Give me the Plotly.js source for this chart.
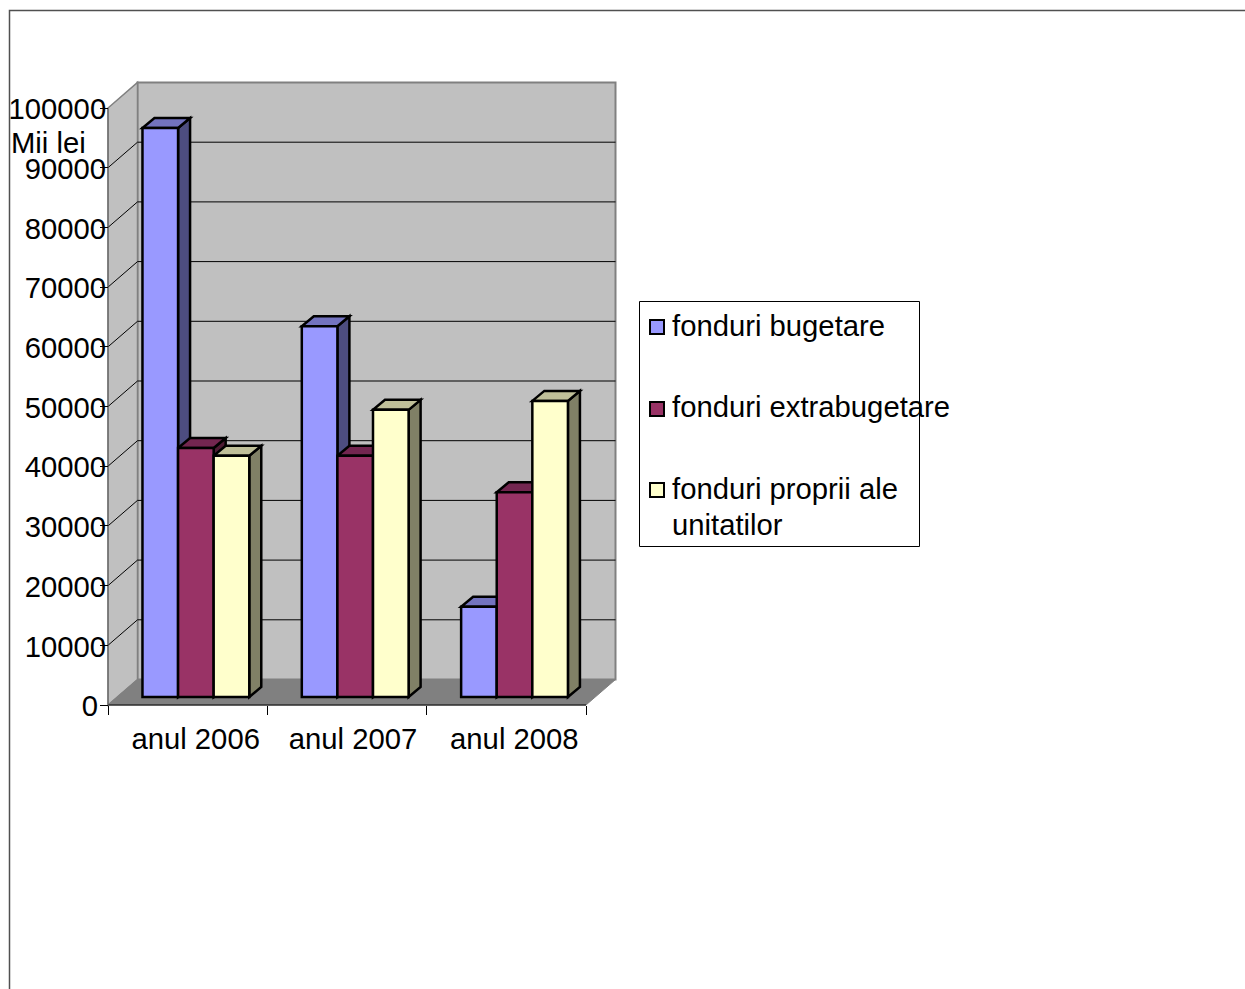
<!DOCTYPE html>
<html>
<head>
<meta charset="utf-8">
<script src="https://cdn.plot.ly/plotly-3.0.1.min.js"></script>
<style>html,body{margin:0;padding:0;background:#fff}#chart{width:1245px;height:989px}</style>
</head>
<body>
<div id="chart"></div>
<script>
// ---- data ----
const categories = ['anul 2006', 'anul 2007', 'anul 2008'];
const seriesNames = ['fonduri bugetare', 'fonduri extrabugetare', 'fonduri proprii ale unitatilor'];
const legendLines = ['fonduri bugetare', 'fonduri extrabugetare', 'fonduri proprii ale', 'unitatilor'];
const bugetare = [95300, 62100, 15100];
const extrabugetare = [41700, 40400, 34300];
const proprii = [40400, 48100, 49600];
const yTicks = [0, 10000, 20000, 30000, 40000, 50000, 60000, 70000, 80000, 90000, 100000];
const yTickText = ['0\u00A0', '10000', '20000', '30000', '40000', '50000', '60000', '70000', '80000', '90000', '100000'];
const frontColors = ['#9999FF', '#993366', '#FFFFCC'];
const topColors = ['#7373BF', '#732650', '#BFBF99'];
const sideColors = ['#4D4D80', '#4D1A33', '#808066'];
const allSeries = [bugetare, extrabugetare, proprii];

// ---- page geometry ----
const W = 1245, H = 989;
const catPx = 159.33, cat0Px = 187.67;      // category pitch, first centre
const zeroPx = 705, tenKPx = 59.7;          // y of 0, px per 10000
const X = px => (px - cat0Px) / catPx;      // px -> x data
const DX = px => px / catPx;
const Y = py => (zeroPx - py) / tenKPx * 10000; // px -> y data
const DY = px => px / tenKPx * 10000;

const plotL = 100, plotR = 624, plotT = 75, plotB = 712;
const xRange = [X(plotL), X(plotR)];
const yRange = [Y(plotB), Y(plotT)];
const xDomain = [plotL / W, plotR / W];
const yDomain = [1 - plotB / H, 1 - plotT / H];

const wallDx = DX(29.5), wallDy = DY(25.5);   // depth of the box
const barDx = DX(12), barDy = DY(10);         // depth of a bar
const barBase = DY(8);                        // bars stand inside the floor
const barW = DX(35.6), groupStart = DX(-45.2);
const left = -0.5, right = 2.5;
const topTick = yTicks[yTicks.length - 1];
const labelNudge = [DX(8), DX(6), DX(8)];

const poly = pts => 'M' + pts.map(p => p[0] + ',' + p[1]).join(' L') + ' Z';
const area = (pts, fill, line, width) => ({
  type: 'path', path: poly(pts), xref: 'x', yref: 'y', layer: 'below',
  fillcolor: fill, line: {color: line, width: width}
});
const seg = (x0, y0, x1, y1, color, width) => ({
  type: 'line', x0, y0, x1, y1, xref: 'x', yref: 'y', layer: 'below',
  line: {color, width}
});

const shapes = [];
// outer chart frame
shapes.push({type: 'rect', xref: 'paper', yref: 'paper', x0: 9.5 / W, x1: 1.02, y0: 1 - 10.5 / H, y1: -0.02,
  line: {color: '#505050', width: 1.5}, fillcolor: 'rgba(0,0,0,0)', layer: 'below'});
// back wall, side wall, floor
shapes.push(area([[left + wallDx, wallDy], [right + wallDx, wallDy], [right + wallDx, topTick + wallDy], [left + wallDx, topTick + wallDy]], '#C0C0C0', '#808080', 2));
shapes.push(area([[left, 0], [left + wallDx, wallDy], [left + wallDx, topTick + wallDy], [left, topTick]], '#C0C0C0', '#808080', 1.5));
shapes.push(area([[left, 0], [right, 0], [right + wallDx, wallDy], [left + wallDx, wallDy]], '#808080', '#808080', 1));
// gridlines on the walls
yTicks.slice(1, -1).forEach(v => {
  shapes.push(seg(left + wallDx, v + wallDy, right + wallDx, v + wallDy, '#000000', 1));
  shapes.push(seg(left, v, left + wallDx, v + wallDy, '#000000', 1));
});
// axis lines of the front plane
shapes.push(seg(left, 0, right, 0, '#000000', 1));
shapes.push(seg(left, 0, left, topTick, '#606060', 1));
// depth faces of each bar, built from the values
allSeries.forEach((vals, s) => {
  vals.forEach((v, c) => {
    const x0 = c + groupStart + s * barW, x1 = x0 + barW, t = barBase + v;
    shapes.push(area([[x1, barBase], [x1 + barDx, barBase + barDy], [x1 + barDx, t + barDy], [x1, t]], sideColors[s], '#000000', 2.5));
    shapes.push(area([[x0, t], [x1, t], [x1 + barDx, t + barDy], [x0 + barDx, t + barDy]], topColors[s], '#000000', 2.5));
  });
});

// legend box + swatches
const px = v => v / W, py = v => 1 - v / H;
shapes.push({type: 'rect', xref: 'paper', yref: 'paper', x0: px(639.5), x1: px(919.5), y0: py(546.5), y1: py(301.5),
  fillcolor: '#FFFFFF', line: {color: '#000000', width: 1}, layer: 'below'});
const swatchY = [327, 409, 490];
const legendTextY = [326, 407, 489.5, 524.5];
swatchY.forEach((y, i) => shapes.push({type: 'rect', xref: 'paper', yref: 'paper',
  x0: px(650), x1: px(664), y0: py(y + 7), y1: py(y - 7),
  fillcolor: frontColors[i], line: {color: '#000000', width: 2}, layer: 'below'}));

const fontFam = '"Liberation Sans", Arial, sans-serif';
const textSize = 29.25;
const annotations = legendLines.map((n, i) => ({
  xref: 'paper', yref: 'paper', x: px(670.5), y: py(legendTextY[i]), xanchor: 'left', yanchor: 'middle',
  text: n, align: 'left', showarrow: false, borderpad: 0, font: {family: fontFam, size: textSize, color: '#000'}
}));
annotations.push({xref: 'paper', yref: 'paper', x: px(9), y: py(143), xanchor: 'left', yanchor: 'middle',
  text: 'Mii lei', showarrow: false, font: {family: fontFam, size: textSize, color: '#000'}});

const traces = allSeries.map((vals, s) => ({
  type: 'bar', name: seriesNames[s],
  x: categories.map((_, i) => i), y: vals, base: barBase,
  width: barW, offset: groupStart + s * barW,
  marker: {color: frontColors[s], line: {color: '#000000', width: 2.5}},
  showlegend: false, hoverinfo: 'name+y'
}));

const layout = {
  width: W, height: H, margin: {l: 0, r: 0, t: 0, b: 0, pad: 0},
  paper_bgcolor: '#FFFFFF', plot_bgcolor: 'rgba(0,0,0,0)', barmode: 'overlay', showlegend: false,
  font: {family: fontFam, size: textSize, color: '#000'},
  xaxis: {
    domain: xDomain, range: xRange, anchor: 'free', position: 1 - zeroPx / H,
    tickmode: 'array', tickvals: categories.map((_, i) => i + labelNudge[i]), ticktext: categories,
    ticks: '', showgrid: false, zeroline: false, showline: false,
    ticklabelstandoff: 14, tickfont: {family: fontFam, size: textSize, color: '#000'}
  },
  xaxis2: {
    domain: xDomain, range: xRange, anchor: 'free', position: 1 - zeroPx / H, overlaying: 'x',
    tickmode: 'array', tickvals: [-0.5, 0.5, 1.5, 2.5], ticktext: ['', '', '', ''],
    ticks: 'outside', ticklen: 9, tickwidth: 1, tickcolor: '#000', showgrid: false, zeroline: false, showline: false
  },
  yaxis: {
    domain: yDomain, range: yRange, anchor: 'free', position: 108 / W,
    tickmode: 'array', tickvals: yTicks, ticktext: yTickText,
    ticks: 'outside', ticklen: 8, tickwidth: 1, tickcolor: '#000',
    showgrid: false, zeroline: false, showline: false,
    ticklabelstandoff: -12, ticklabelshift: 1, tickfont: {family: fontFam, size: textSize, color: '#000'}
  },
  shapes, annotations
};
// a blank carrier so that the tick-only axis is kept
traces.push({type: 'scatter', x: [], y: [], xaxis: 'x2', yaxis: 'y', showlegend: false, hoverinfo: 'skip'});
Plotly.newPlot('chart', traces, layout, {displayModeBar: false, staticPlot: true});
</script>
</body>
</html>
